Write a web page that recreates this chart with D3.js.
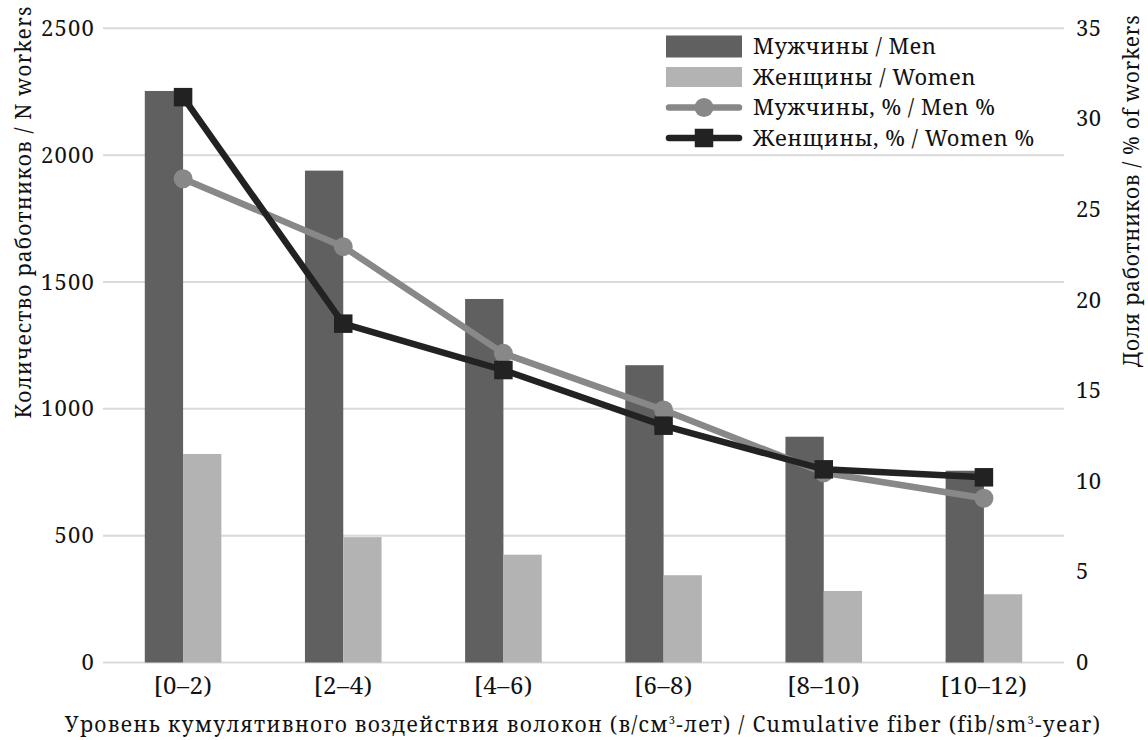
<!DOCTYPE html>
<html>
<head>
<meta charset="utf-8">
<script src="https://cdn.jsdelivr.net/npm/d3@7"></script>
<style>
  html, body { margin: 0; padding: 0; background: #fff; }
  svg text { font-family: "Noto Serif", "DejaVu Serif", serif; fill: #111; }
</style>
</head>
<body>
<svg id="chart" width="1148" height="740"></svg>
<script>
const categories = ["[0\u20132)", "[2\u20134)", "[4\u20136)", "[6\u20138)", "[8\u201310)", "[10\u201312)"];
const menCount = [2253, 1939, 1433, 1172, 890, 756];
const womenCount = [822, 494, 425, 344, 282, 269];
const menPct = [26.7, 22.95, 17.06, 13.93, 10.47, 9.06];
const womenPct = [31.2, 18.7, 16.14, 13.07, 10.66, 10.22];
const leftTicks = [0, 500, 1000, 1500, 2000, 2500];
const rightTicks = [0, 5, 10, 15, 20, 25, 30, 35];
const seriesNames = ["Мужчины / Men", "Женщины / Women", "Мужчины, % / Men %", "Женщины, % / Women %"];
const leftTitle = "Количество работников / N workers";
const rightTitle = "Доля работников / % of workers";

const FONT = '"Noto Serif", "DejaVu Serif", serif';
const svg = d3.select("#chart");
const plot = { left: 103, right: 1064, top: 28.3, bottom: 662.5 };
const colMen = "#606060", colWomen = "#b3b3b3", colMenLine = "#888888", colWomenLine = "#222222";
const FS = 21;

const x = d3.scaleBand().domain(categories).range([plot.left, plot.right]).padding(0);
const bw = x.bandwidth();
const barW = 38.3;
const x1 = d3.scaleBand().domain(["men", "women"]).range([bw / 2 - barW, bw / 2 + barW]).padding(0);
const yL = d3.scaleLinear().domain([0, 2500]).range([plot.bottom, plot.top]);
const yR = d3.scaleLinear().domain([0, 35]).range([plot.bottom, plot.top]);

function styleTicks(size, spacing) {
  return g => {
    g.attr("font-family", null).attr("font-size", null);
    g.select(".domain").remove();
    g.selectAll(".tick text").attr("font-size", size).attr("fill", "#111")
      .attr("letter-spacing", spacing).style("font-family", FONT);
  };
}
function fitWidth(sel, target) {
  const node = sel.node();
  const len = node.getComputedTextLength();
  const n = node.textContent.length;
  if (n > 1) sel.attr("letter-spacing", ((target - len) / (n - 1)).toFixed(3));
}

// gridlines
svg.append("g").selectAll("line").data(leftTicks).join("line")
  .attr("x1", plot.left).attr("x2", plot.right)
  .attr("y1", d => yL(d)).attr("y2", d => yL(d))
  .attr("stroke", "#d9d9d9").attr("stroke-width", 2);

const leftAxis = d3.axisLeft(yL).tickValues(leftTicks).tickFormat(d3.format("d")).tickSize(0).tickPadding(8);
svg.append("g").attr("transform", `translate(${plot.left},0)`).call(leftAxis).call(styleTicks(22, 1.2));

const rightAxis = d3.axisRight(yR).tickValues(rightTicks).tickFormat(d3.format("d")).tickSize(0).tickPadding(12);
svg.append("g").attr("transform", `translate(${plot.right},0)`).call(rightAxis).call(styleTicks(22, 0.5));

// bars
const gBars = svg.append("g");
categories.forEach((c, i) => {
  gBars.append("rect").attr("x", x(c) + x1("men")).attr("width", x1.bandwidth())
    .attr("y", yL(menCount[i])).attr("height", yL(0) - yL(menCount[i])).attr("fill", colMen);
  gBars.append("rect").attr("x", x(c) + x1("women")).attr("width", x1.bandwidth())
    .attr("y", yL(womenCount[i])).attr("height", yL(0) - yL(womenCount[i])).attr("fill", colWomen);
});

// x axis labels
const bottomAxis = d3.axisBottom(x).tickSize(0).tickPadding(14);
svg.append("g").attr("transform", `translate(0,${plot.bottom})`).call(bottomAxis).call(styleTicks(24, 0.6));

// lines
const cx = (i) => x(categories[i]) + bw / 2;
const lineGen = d3.line().x((d, i) => cx(i)).y(d => yR(d));
svg.append("path").datum(menPct).attr("d", lineGen).attr("fill", "none")
  .attr("stroke", colMenLine).attr("stroke-width", 6.5).attr("stroke-linejoin", "round");
svg.append("g").selectAll("circle").data(menPct).join("circle")
  .attr("cx", (d, i) => cx(i)).attr("cy", d => yR(d)).attr("r", 9.5).attr("fill", colMenLine);
svg.append("path").datum(womenPct).attr("d", lineGen).attr("fill", "none")
  .attr("stroke", colWomenLine).attr("stroke-width", 6.5).attr("stroke-linejoin", "round");
const sq = 18.5;
svg.append("g").selectAll("rect").data(womenPct).join("rect")
  .attr("x", (d, i) => cx(i) - sq / 2).attr("y", d => yR(d) - sq / 2)
  .attr("width", sq).attr("height", sq).attr("fill", colWomenLine);

// axis titles
const lt = svg.append("text").attr("transform", `translate(31,212) rotate(-90)`)
  .attr("text-anchor", "middle").attr("font-size", FS).text(leftTitle);
fitWidth(lt, 412);
const rt = svg.append("text").attr("transform", `translate(1139,191) rotate(-90)`)
  .attr("text-anchor", "middle").attr("font-size", FS).text(rightTitle);
fitWidth(rt, 352);
const bt = svg.append("text").attr("x", 583).attr("y", 732).attr("text-anchor", "middle").attr("font-size", FS);
bt.append("tspan").text("Уровень кумулятивного воздействия волокон (в/см");
bt.append("tspan").attr("font-size", 11).attr("dy", -8).text("3");
bt.append("tspan").attr("dy", 8).text("-лет) / Cumulative fiber (fib/sm");
bt.append("tspan").attr("font-size", 11).attr("dy", -8).text("3");
bt.append("tspan").attr("dy", 8).text("-year)");
fitWidth(bt, 1034);

// legend
const lg = svg.append("g");
const rowY = [46.5, 77, 107.5, 138];
const sx0 = 666, sx1 = 742;
lg.append("rect").attr("x", sx0).attr("y", rowY[0] - 11).attr("width", sx1 - sx0).attr("height", 22).attr("fill", colMen);
lg.append("rect").attr("x", sx0).attr("y", rowY[1] - 10).attr("width", sx1 - sx0).attr("height", 20).attr("fill", colWomen);
lg.append("line").attr("x1", sx0 + 3).attr("x2", sx1 - 3).attr("y1", rowY[2]).attr("y2", rowY[2])
  .attr("stroke", colMenLine).attr("stroke-width", 6.5).attr("stroke-linecap", "round");
lg.append("circle").attr("cx", (sx0 + sx1) / 2).attr("cy", rowY[2]).attr("r", 9.5).attr("fill", colMenLine);
lg.append("line").attr("x1", sx0 + 3).attr("x2", sx1 - 3).attr("y1", rowY[3]).attr("y2", rowY[3])
  .attr("stroke", colWomenLine).attr("stroke-width", 6.5).attr("stroke-linecap", "round");
lg.append("rect").attr("x", (sx0 + sx1) / 2 - sq / 2).attr("y", rowY[3] - sq / 2).attr("width", sq).attr("height", sq).attr("fill", colWomenLine);
lg.selectAll("text.lt").data(seriesNames).join("text").attr("class", "lt")
  .attr("x", 753).attr("y", (d, i) => rowY[i]).attr("dy", "0.35em").attr("font-size", 22)
  .attr("letter-spacing", 0.5).text(d => d);
</script>
</body>
</html>
